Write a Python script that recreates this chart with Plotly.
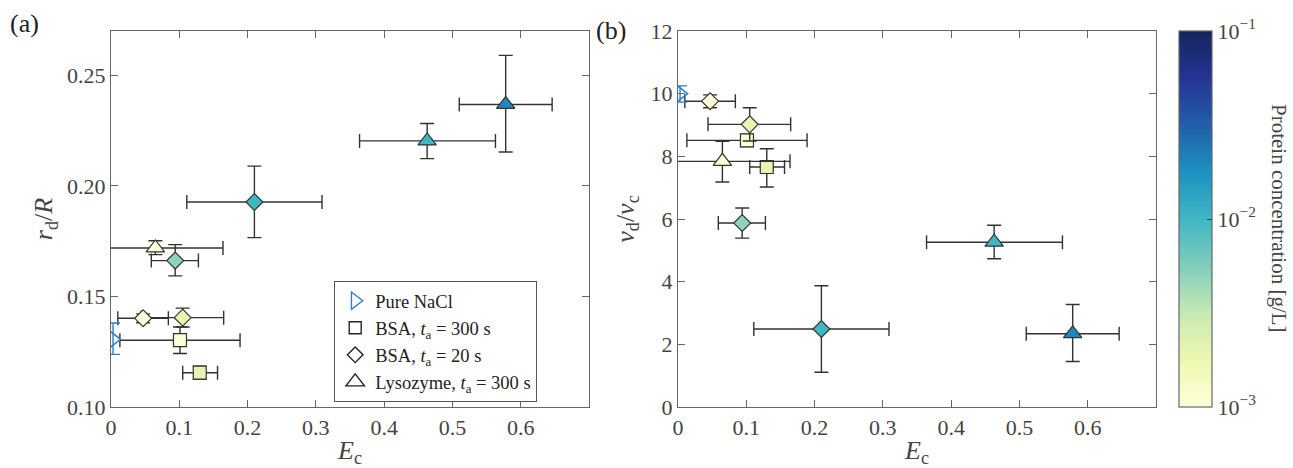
import numpy as np
import plotly.graph_objects as go

# ---------------- data ----------------
# Pure NaCl
nacl_E = [0.003]
nacl_r = [0.1306]
nacl_r_lo = [0.1238]
nacl_r_hi = [0.1380]
nacl_v = [10.0]
nacl_v_lo = [9.73]
nacl_v_hi = [10.25]

# BSA, t_a = 300 s (squares)
bsa300_E = [0.101, 0.130]
bsa300_E_lo = [0.013, 0.105]
bsa300_E_hi = [0.189, 0.156]
bsa300_conc = [0.001, 0.002]
bsa300_r = [0.1302, 0.1155]
bsa300_r_lo = [0.1242, 0.1125]
bsa300_r_hi = [0.1362, 0.1185]
bsa300_v = [8.51, 7.66]
bsa300_v_lo = [8.31, 7.02]
bsa300_v_hi = [8.71, 8.24]

# BSA, t_a = 20 s (diamonds)
bsa20_E = [0.047, 0.105, 0.094, 0.210]
bsa20_E_lo = [0.010, 0.044, 0.059, 0.111]
bsa20_E_hi = [0.084, 0.165, 0.128, 0.309]
bsa20_conc = [0.001, 0.002, 0.005, 0.01]
bsa20_r = [0.1401, 0.1404, 0.1662, 0.1927]
bsa20_r_lo = [0.1381, 0.1362, 0.1593, 0.1766]
bsa20_r_hi = [0.1421, 0.1447, 0.1734, 0.2089]
bsa20_v = [9.76, 9.02, 5.87, 2.49]
bsa20_v_lo = [9.55, 8.49, 5.39, 1.11]
bsa20_v_hi = [9.96, 9.55, 6.35, 3.87]

# Lysozyme, t_a = 300 s (triangles)
lys_E = [0.065, 0.463, 0.578]
lys_E_lo = [-0.034, 0.364, 0.510]
lys_E_hi = [0.164, 0.563, 0.646]
lys_conc = [0.001, 0.01, 0.02]
lys_r = [0.1719, 0.2203, 0.2368]
lys_r_lo = [0.1689, 0.2123, 0.2153]
lys_r_hi = [0.1752, 0.2282, 0.2590]
lys_v = [7.84, 5.26, 2.34]
lys_v_lo = [7.18, 4.73, 1.45]
lys_v_hi = [8.48, 5.80, 3.27]

legend_names = ["Pure NaCl",
                "BSA, <i>t</i><sub>a</sub> = 300 s",
                "BSA, <i>t</i><sub>a</sub> = 20 s",
                "Lysozyme, <i>t</i><sub>a</sub> = 300 s"]

x_ticks = [0, 0.1, 0.2, 0.3, 0.4, 0.5, 0.6]
x_ticktext = ["0", "0.1", "0.2", "0.3", "0.4", "0.5", "0.6"]
r_ticks = [0.10, 0.15, 0.20, 0.25]
v_ticks = [0, 2, 4, 6, 8, 10, 12]
cb_major = [-3, -2, -1]
cb_major_text = ["10<sup>−3</sup>", "10<sup>−2</sup>", "10<sup>−1</sup>"]

# ---------------- style ----------------
W, H = 1293, 468
FONT = "'Liberation Serif', 'DejaVu Serif', serif"
TXT = "#444444"
AX = "#666666"
EB = "#333333"
BLUE = "#2a7fd0"
ylgnbu = ["#ffffd9", "#edf8b1", "#c7e9b4", "#7fcdbb", "#41b6c4",
          "#1d91c0", "#225ea8", "#253494", "#14245c"]
cscale = [[i / (len(ylgnbu) - 1), c] for i, c in enumerate(ylgnbu)]

plot_top, plot_bot = 31, 407
PH = plot_bot - plot_top
cb_left, cb_thick = 1179, 33


def err(vals, lo, hi, color=EB):
    v = np.array(vals); l = np.array(lo); h = np.array(hi)
    return dict(type="data", symmetric=False, array=list(h - v),
                arrayminus=list(v - l), color=color, thickness=1.4, width=7)


fig = go.Figure()

groups = [
    (bsa300_E, bsa300_E_lo, bsa300_E_hi, bsa300_conc,
     bsa300_r, bsa300_r_lo, bsa300_r_hi, bsa300_v, bsa300_v_lo, bsa300_v_hi,
     "square", 13),
    (bsa20_E, bsa20_E_lo, bsa20_E_hi, bsa20_conc,
     bsa20_r, bsa20_r_lo, bsa20_r_hi, bsa20_v, bsa20_v_lo, bsa20_v_hi,
     "diamond", 13),
    (lys_E, lys_E_lo, lys_E_hi, lys_conc,
     lys_r, lys_r_lo, lys_r_hi, lys_v, lys_v_lo, lys_v_hi,
     "triangle-up", 16),
]

for (E, Elo, Ehi, conc, r, rlo, rhi, v, vlo, vhi, sym, size) in groups:
    col = list(np.log10(conc))
    for yv, ylo, yhi, xa, ya in [(r, rlo, rhi, "x", "y"), (v, vlo, vhi, "x2", "y2")]:
        fig.add_trace(go.Scatter(
            x=E, y=yv, mode="markers", xaxis=xa, yaxis=ya, showlegend=False,
            error_x=err(E, Elo, Ehi), error_y=err(yv, ylo, yhi),
            marker=dict(symbol=sym, size=size, color=col, coloraxis="coloraxis",
                        line=dict(color=EB, width=1.2)),
            hoverinfo="skip"))

# Pure NaCl
for yv, ylo, yhi, xa, ya in [(nacl_r, nacl_r_lo, nacl_r_hi, "x", "y"),
                             (nacl_v, nacl_v_lo, nacl_v_hi, "x2", "y2")]:
    fig.add_trace(go.Scatter(
        x=nacl_E, y=yv, mode="markers", xaxis=xa, yaxis=ya, showlegend=False,
        error_y=err(yv, ylo, yhi, BLUE),
        marker=dict(symbol="triangle-right-open", size=15, color=BLUE,
                    line=dict(color=BLUE, width=1.6)),
        hoverinfo="skip"))

# legend entries
leg_syms = [("triangle-right-open", BLUE, 15), ("square-open", "#222", 12),
            ("diamond-open", "#222", 12), ("triangle-up-open", "#222", 16)]
for name, (s, c, sz) in zip(legend_names, leg_syms):
    fig.add_trace(go.Scatter(
        x=[None], y=[None], mode="markers", name=name, xaxis="x", yaxis="y",
        marker=dict(symbol=s, size=sz, color=c, line=dict(color=c, width=1.4))))

axis_common = dict(showline=True, linecolor=AX, linewidth=1.2, mirror="ticks",
                   ticks="inside", ticklen=7, tickcolor=AX, tickwidth=1.2,
                   showgrid=False, zeroline=False,
                   tickfont=dict(family=FONT, size=22, color=TXT))
title_font = dict(family=FONT, size=26, color=TXT)

# minor ticks of the log colour bar (computed from the log scale)
minor_vals = [np.log10(m * 10.0 ** e) for e in (-3, -2) for m in range(2, 10)]
shapes = []
cb_right = (cb_left + cb_thick) / W
for mv in minor_vals:
    yy = (mv - (-3)) / 2.0
    shapes.append(dict(type="line", xref="paper", yref="paper",
                       x0=cb_right - 4 / W, x1=cb_right, y0=yy, y1=yy,
                       line=dict(color="#333", width=1)))

fig.update_layout(
    width=W, height=H,
    margin=dict(l=0, r=0, t=plot_top, b=H - plot_bot, autoexpand=False),
    paper_bgcolor="white", plot_bgcolor="white",
    font=dict(family=FONT, size=20, color=TXT),
    xaxis=dict(domain=[111 / W, 589 / W], range=[0, 0.7], tickvals=x_ticks,
               ticktext=x_ticktext,
               title=dict(text="<i>E</i><sub>c</sub>", standoff=5, font=title_font),
               anchor="y", **axis_common),
    yaxis=dict(domain=[0, 1], range=[0.10, 0.27], tickvals=r_ticks,
               tickformat=".2f",
               title=dict(text="<i>r</i><sub>d</sub>/<i>R</i>", standoff=6, font=title_font),
               anchor="x", **axis_common),
    xaxis2=dict(domain=[678 / W, 1156 / W], range=[0, 0.7], tickvals=x_ticks,
                ticktext=x_ticktext,
                title=dict(text="<i>E</i><sub>c</sub>", standoff=5, font=title_font),
                anchor="y2", **axis_common),
    yaxis2=dict(domain=[0, 1], range=[0, 12], tickvals=v_ticks,
                title=dict(text="<i>v</i><sub>d</sub>/<i>v</i><sub>c</sub>", standoff=8,
                           font=title_font),
                anchor="x2", **axis_common),
    coloraxis=dict(
        colorscale=cscale, cmin=-3, cmax=-1,
        colorbar=dict(
            x=cb_left / W, xanchor="left", xpad=0, ypad=0, thickness=cb_thick,
            len=1, lenmode="fraction", y=0.5, yanchor="middle",
            outlinewidth=1.2, outlinecolor=AX,
            ticks="inside", ticklen=5, tickcolor="#333", tickwidth=1,
            tickvals=cb_major, ticktext=cb_major_text,
            tickfont=dict(family=FONT, size=22, color=TXT),
        )),
    legend=dict(x=334 / W, y=(plot_bot - 281) / PH,
                xanchor="left", yanchor="top",
                bordercolor="#555", borderwidth=1.2, bgcolor="white",
                font=dict(family=FONT, size=18.5, color="#222"),
                tracegroupgap=0, itemwidth=30),
    shapes=shapes,
    annotations=[
        dict(text="(a)", x=8 / W, y=1.0 + 8 / PH, xref="paper", yref="paper",
             xanchor="left", yanchor="middle", showarrow=False,
             font=dict(family=FONT, size=26, color="#222")),
        dict(text="(b)", x=594 / W, y=1.0 + 1 / PH, xref="paper", yref="paper",
             xanchor="left", yanchor="middle", showarrow=False,
             font=dict(family=FONT, size=26, color="#222")),
        dict(text="Protein concentration [g/L]", x=1279 / W, y=(plot_bot - 218) / PH,
             xref="paper", yref="paper", xanchor="center", yanchor="middle",
             textangle=90, showarrow=False,
             font=dict(family=FONT, size=21, color=TXT)),
    ],
)

fig.write_html("out.html",
               config={"displayModeBar": False},
               post_script="document.body.style.margin='0';document.body.style.overflow='hidden';")
